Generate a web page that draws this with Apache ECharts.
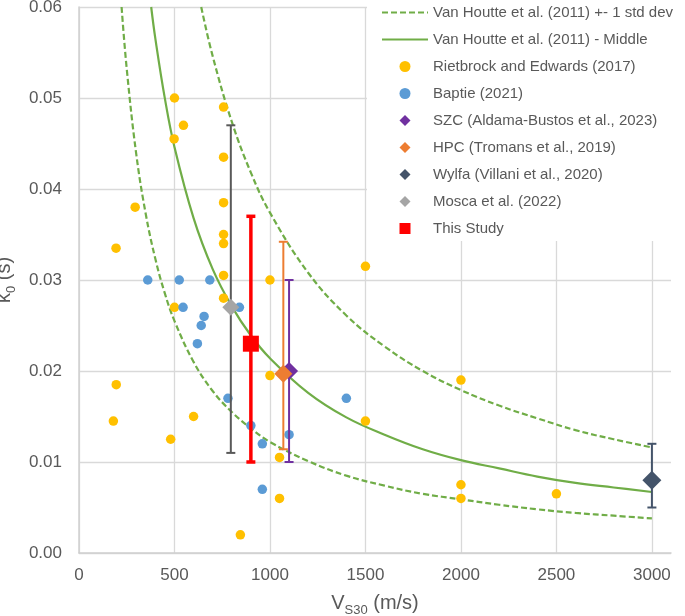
<!DOCTYPE html>
<html>
<head>
<meta charset="utf-8">
<script src="https://cdn.jsdelivr.net/npm/echarts@6/dist/echarts.min.js"></script>
<style>
  html, body { margin: 0; padding: 0; background: #fff; }
  #chart { width: 685px; height: 616px; }
</style>
</head>
<body>
<div id="chart"></div>
<script>
// ---- Data ----
// Van Houtte et al. (2011) curves: Vs30 (m/s) and kappa0 (s)
const vhMidX = [378, 400, 450, 500, 600, 700, 800, 900, 1000, 1200, 1400, 1600, 1800, 2000, 2200, 2400, 2600, 2800, 3000];
const vhMidY = [0.0600, 0.0565, 0.0499, 0.0446, 0.0368, 0.0312, 0.0271, 0.0239, 0.0214, 0.0176, 0.0149, 0.0130, 0.0114, 0.0102, 0.0093, 0.0084, 0.0077, 0.0072, 0.0067];
const vhUpX = [640, 700, 800, 900, 1000, 1200, 1400, 1600, 1800, 2000, 2200, 2400, 2600, 2800, 3000];
const vhUpY = [0.0600, 0.0546, 0.0474, 0.0418, 0.0374, 0.0308, 0.0261, 0.0227, 0.0200, 0.0179, 0.0162, 0.0148, 0.0135, 0.0125, 0.0116];
const vhLoX = [223, 250, 300, 350, 400, 450, 500, 600, 700, 800, 900, 1000, 1200, 1400, 1600, 1800, 2000, 2200, 2400, 2600, 2800, 3000];
const vhLoY = [0.0600, 0.0532, 0.0438, 0.0372, 0.0323, 0.0285, 0.0255, 0.0210, 0.0178, 0.0155, 0.0137, 0.0122, 0.0101, 0.0085, 0.0074, 0.0065, 0.0059, 0.0053, 0.0048, 0.0044, 0.0041, 0.0038];

// Rietbrock and Edwards (2017)
const rietX = [500, 757, 547, 498, 757, 294, 757, 194, 757, 757, 757, 1000, 757, 500, 1000, 195, 180, 600, 480, 1050, 1050, 845, 1500, 1500, 2000, 2000, 2000, 2500];
const rietY = [0.0500, 0.0490, 0.0470, 0.0455, 0.0435, 0.0380, 0.0385, 0.0335, 0.0350, 0.0340, 0.0305, 0.0300, 0.0280, 0.0270, 0.0195, 0.0185, 0.0145, 0.0150, 0.0125, 0.0105, 0.0060, 0.0020, 0.0145, 0.0315, 0.0190, 0.0075, 0.0060, 0.0065];

// Baptie (2021)
const baptieX = [360, 525, 685, 545, 840, 655, 640, 620, 780, 900, 960, 1100, 960, 1400];
const baptieY = [0.0300, 0.0300, 0.0300, 0.0270, 0.0270, 0.0260, 0.0250, 0.0230, 0.0170, 0.0140, 0.0120, 0.0130, 0.0070, 0.0170];

// Studies with error bars: Vs30, kappa0, low, high
const szc   = { x: 1100, y: 0.0200, lo: 0.0100, hi: 0.0300 };
const hpc   = { x: 1070, y: 0.0197, lo: 0.0114, hi: 0.0342 };
const wylfa = { x: 3000, y: 0.0080, lo: 0.0050, hi: 0.0120 };
const mosca = { x: 795,  y: 0.0270, lo: 0.0110, hi: 0.0470 };
const study = { x: 900,  y: 0.0230, lo: 0.0100, hi: 0.0370 };

const xTicks = [0, 500, 1000, 1500, 2000, 2500, 3000];
const yTicks = [0.00, 0.01, 0.02, 0.03, 0.04, 0.05, 0.06];

// ---- Chart ----
const TXT = '#595959';
const FONT = 'Liberation Sans, Arial, sans-serif';
const GREEN = '#70AD47';
const zip = (xs, ys) => xs.map((x, i) => [x, ys[i]]);

function errorBar(name, d, color, width, cap, z) {
  return {
    type: 'custom',
    name: name,
    silent: true,
    z: z,
    clip: false,
    encode: { x: 0, y: [1, 2] },
    data: [[d.x, d.lo, d.hi]],
    renderItem: function (params, api) {
      const x = api.value(0);
      const pLo = api.coord([x, api.value(1)]);
      const pHi = api.coord([x, api.value(2)]);
      const hw = cap / 2;
      const st = { stroke: color, lineWidth: width };
      return {
        type: 'group',
        children: [
          { type: 'line', shape: { x1: pLo[0], y1: pLo[1], x2: pHi[0], y2: pHi[1] }, style: st },
          { type: 'line', shape: { x1: pHi[0] - hw, y1: pHi[1], x2: pHi[0] + hw, y2: pHi[1] }, style: st },
          { type: 'line', shape: { x1: pLo[0] - hw, y1: pLo[1], x2: pLo[0] + hw, y2: pLo[1] }, style: st }
        ]
      };
    }
  };
}

function pointSeries(name, d, symbol, size, color, z) {
  return {
    type: 'scatter', name: name, symbol: symbol, symbolSize: size, z: z,
    itemStyle: { color: color, opacity: 1 },
    data: [[d.x, d.y]]
  };
}

const chart = echarts.init(document.getElementById('chart'), null, { renderer: 'canvas' });

const STD = 'Van Houtte et al. (2011) +- 1 std dev';
const MID = 'Van Houtte et al. (2011) - Middle';
const DIAMOND = 'path://M5,0L10,5L5,10L0,5Z';
const SQUARE = 'path://M0,0L10,0L10,10L0,10Z';
const hideSym = { opacity: 0 };

const option = {
  animation: false,
  backgroundColor: '#fff',
  textStyle: { fontFamily: FONT },
  grid: { left: 79, right: 14, top: 7, bottom: 63, containLabel: false, outerBoundsMode: 'none' },
  graphic: [{
    type: 'rect', left: 367, top: 0, z: 1, silent: true,
    shape: { width: 318, height: 241 },
    style: { fill: '#fff' }
  }],
  legend: {
    orient: 'vertical',
    left: 367, top: 0,
    padding: [5, 8, 8, 14],
    itemWidth: 46, itemHeight: 11, itemGap: 12,
    symbolKeepAspect: true,
    textStyle: { color: TXT, fontSize: 15, fontFamily: FONT },
    data: [
      { name: STD, itemStyle: hideSym },
      { name: MID, itemStyle: hideSym },
      { name: 'Rietbrock and Edwards (2017)', icon: 'circle' },
      { name: 'Baptie (2021)', icon: 'circle' },
      { name: 'SZC (Aldama-Bustos et al., 2023)', icon: DIAMOND },
      { name: 'HPC (Tromans et al., 2019)', icon: DIAMOND },
      { name: 'Wylfa (Villani et al., 2020)', icon: DIAMOND },
      { name: 'Mosca et al. (2022)', icon: DIAMOND },
      { name: 'This Study', icon: SQUARE }
    ],
    z: 20
  },
  xAxis: {
    type: 'value', min: xTicks[0], max: 3100, interval: 500,
    name: '{v|V}{s|S30}{v| (m/s)}',
    nameLocation: 'middle', nameGap: 36,
    nameTextStyle: {
      rich: {
        v: { fontSize: 20, color: TXT, fontFamily: FONT, lineHeight: 28 },
        s: { fontSize: 13, color: TXT, fontFamily: FONT, lineHeight: 28, verticalAlign: 'bottom' }
      }
    },
    axisLine: { show: true, lineStyle: { color: '#D0D0D0', width: 1.5 } },
    axisTick: { show: false },
    axisLabel: {
      color: TXT, fontSize: 17, margin: 14, showMaxLabel: false,
      formatter: v => (xTicks.indexOf(v) >= 0 ? String(v) : '')
    },
    splitLine: { show: true, showMaxLine: false, lineStyle: { color: '#D9D9D9', width: 1.3 } }
  },
  yAxis: {
    type: 'value', min: yTicks[0], max: yTicks[yTicks.length - 1], interval: 0.01,
    name: '{v|k}{s|0}{v| (s)}',
    nameLocation: 'middle', nameGap: 45, nameRotate: 90,
    nameTextStyle: {
      rich: {
        v: { fontSize: 20, color: TXT, fontFamily: FONT, lineHeight: 28 },
        s: { fontSize: 13, color: TXT, fontFamily: FONT, lineHeight: 28, verticalAlign: 'bottom' }
      }
    },
    axisLine: { show: true, lineStyle: { color: '#D0D0D0', width: 1.5 } },
    axisTick: { show: false },
    axisLabel: { color: TXT, fontSize: 17, margin: 17, formatter: v => v.toFixed(2) },
    splitLine: { show: true, lineStyle: { color: '#D9D9D9', width: 1.3 } }
  },
  series: [
    {
      type: 'line', name: STD, data: zip(vhUpX, vhUpY), smooth: 0.4, symbol: 'none', z: 2,
      lineStyle: { color: GREEN, width: 2.2, type: [6, 3] }, itemStyle: { color: GREEN }
    },
    {
      type: 'line', name: STD, data: zip(vhLoX, vhLoY), smooth: 0.4, symbol: 'none', z: 2,
      lineStyle: { color: GREEN, width: 2.2, type: [6, 3] }, itemStyle: { color: GREEN }
    },
    {
      type: 'line', name: MID, data: zip(vhMidX, vhMidY), smooth: 0.4, symbol: 'none', z: 2,
      lineStyle: { color: GREEN, width: 2.2 }, itemStyle: { color: GREEN }
    },
    {
      type: 'scatter', name: 'Rietbrock and Edwards (2017)', symbol: 'circle', symbolSize: 9.5, z: 3,
      itemStyle: { color: '#FFC000', opacity: 1 }, data: zip(rietX, rietY)
    },
    {
      type: 'scatter', name: 'Baptie (2021)', symbol: 'circle', symbolSize: 9.5, z: 3,
      itemStyle: { color: '#5B9BD5', opacity: 1 }, data: zip(baptieX, baptieY)
    },
    errorBar('szc-err', szc, '#7030A0', 2, 9, 4),
    pointSeries('SZC (Aldama-Bustos et al., 2023)', szc, 'diamond', 18, '#7030A0', 5),
    errorBar('hpc-err', hpc, '#ED7D31', 2, 9, 4),
    pointSeries('HPC (Tromans et al., 2019)', hpc, 'diamond', 18, '#ED7D31', 5),
    errorBar('wylfa-err', wylfa, '#44546A', 2, 9, 4),
    pointSeries('Wylfa (Villani et al., 2020)', wylfa, 'diamond', 19, '#44546A', 5),
    errorBar('mosca-err', mosca, '#595959', 2, 9, 4),
    pointSeries('Mosca et al. (2022)', mosca, 'diamond', 17, '#A5A5A5', 5),
    errorBar('study-err', study, '#FF0000', 3.5, 9, 4),
    pointSeries('This Study', study, 'rect', 16, '#FF0000', 5)
  ]
};

chart.setOption(option);
</script>
</body>
</html>
